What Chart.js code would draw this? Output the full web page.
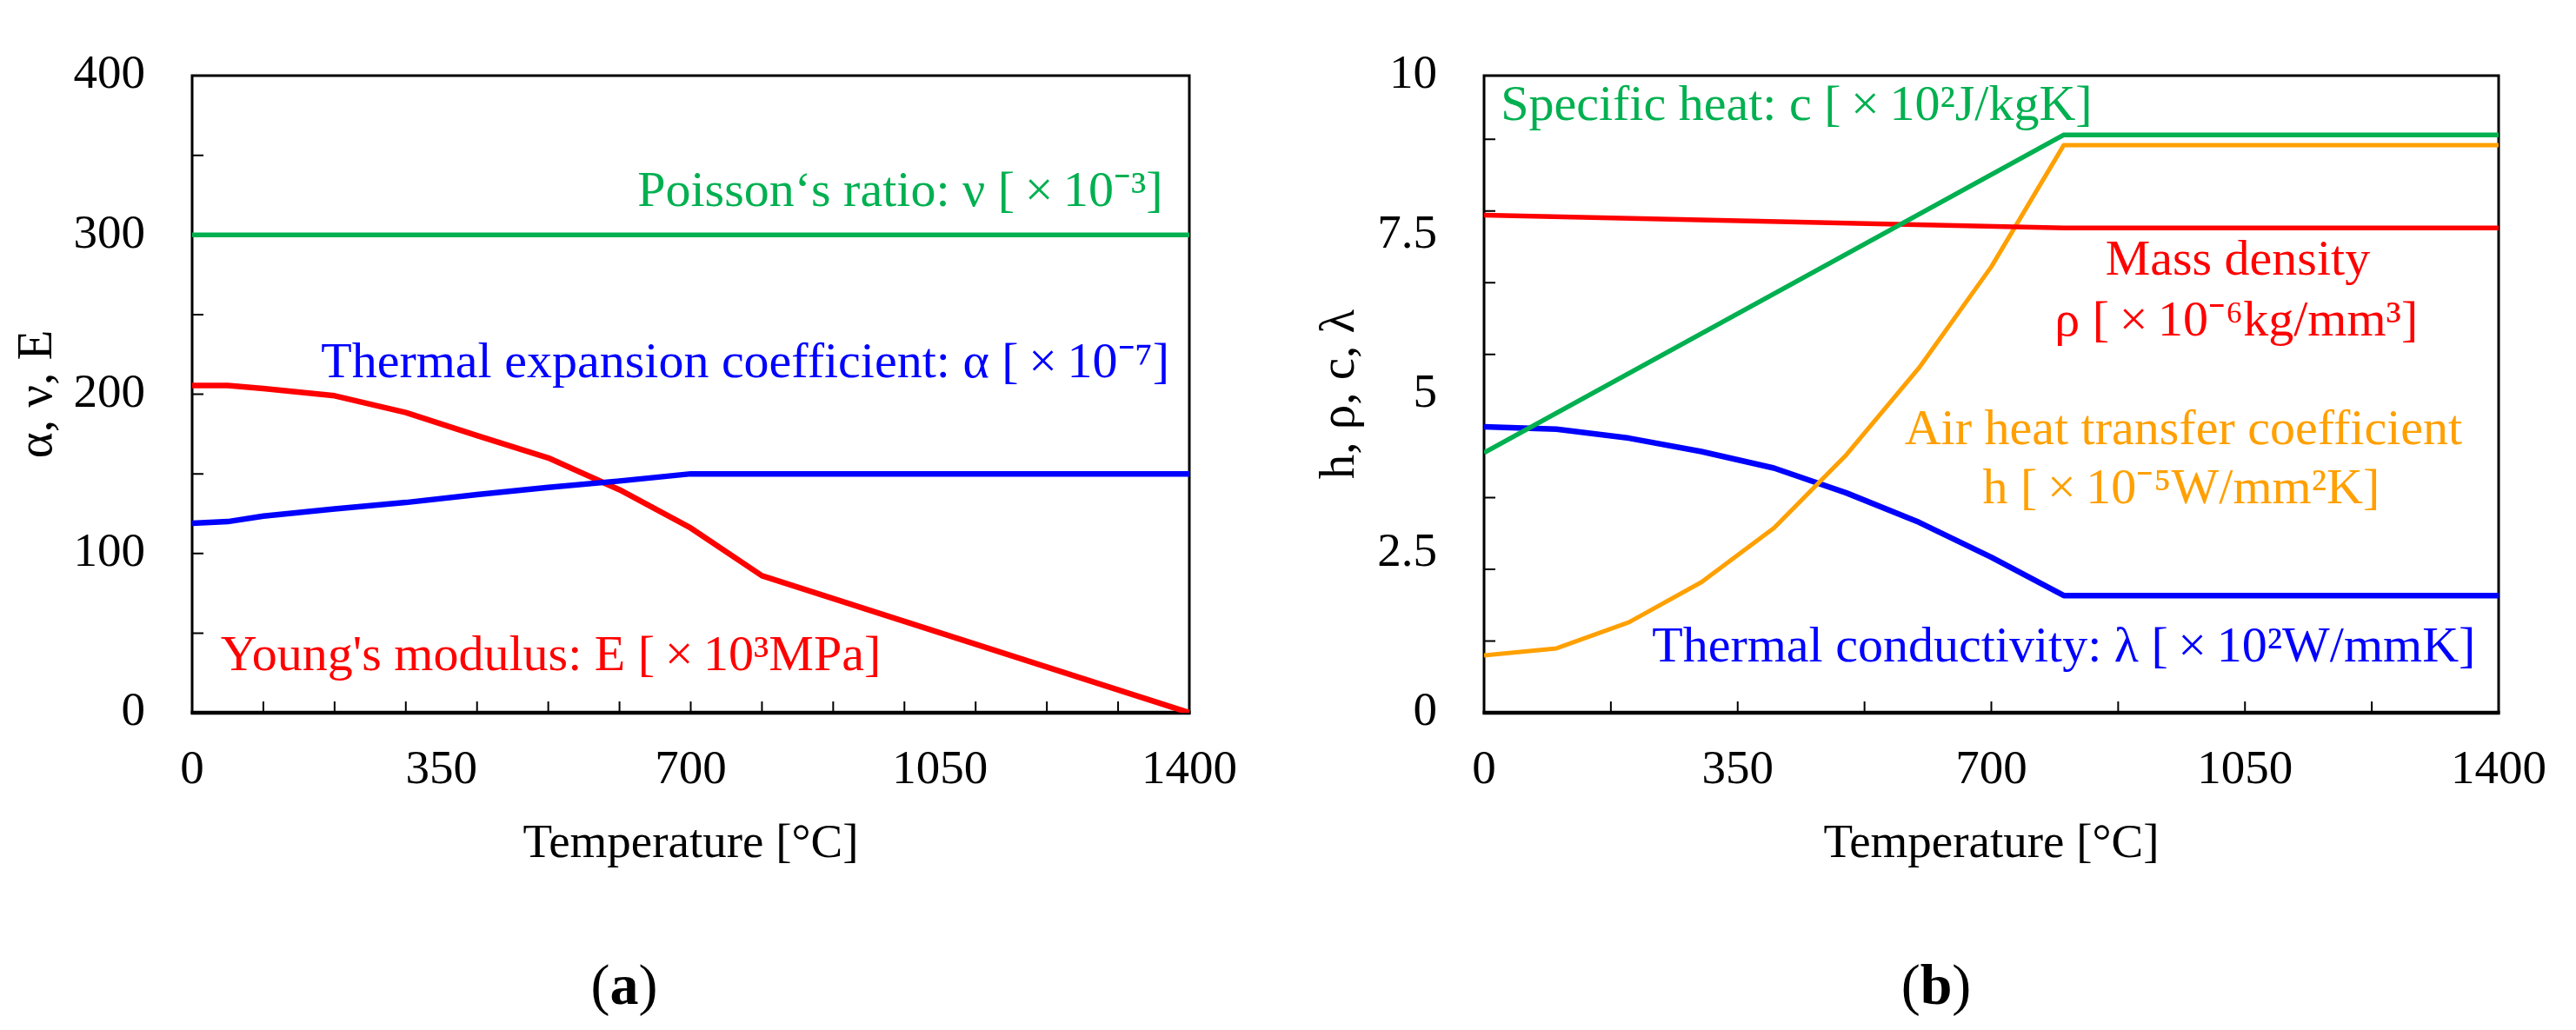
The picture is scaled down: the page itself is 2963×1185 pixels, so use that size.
<!DOCTYPE html>
<html><head><meta charset="utf-8">
<script src="https://cdn.jsdelivr.net/npm/chart.js@4.4.1/dist/chart.umd.min.js"></script>
<style>
html,body{margin:0;padding:0;background:#fff;width:2963px;height:1185px;overflow:hidden;position:relative;font-family:"Liberation Serif",serif;}
canvas{position:absolute;top:0;}
#ca{left:0;width:1480px;height:1050px;}
#cb{left:1480px;width:1483px;height:1050px;}
.lab{position:absolute;top:1133px;font-family:"Liberation Serif",serif;font-size:66px;color:#000;transform:translate(-50%,-50%);white-space:nowrap;line-height:1;}
</style></head><body>
<canvas id="ca" width="1480" height="1050"></canvas>
<canvas id="cb" width="1483" height="1050"></canvas>
<div class="lab" style="left:718px">(<b>a</b>)</div>
<div class="lab" style="left:2227px">(<b>b</b>)</div>
<script>
// ---------- Panel (a) data ----------
const tempA     = [0, 50, 100, 200, 300, 400, 500, 600, 700, 800, 1400];
const youngE    = [205.5, 205.5, 203.5, 199, 188.5, 174, 160, 140, 116, 86, 0];
const expAlpha  = [119, 120, 123.5, 128, 132, 137, 141.5, 145.5, 150, 150, 150];
const tempPoisson = [0, 1400];
const poissonNu = [300, 300];
const xTicksA   = [0, 350, 700, 1050, 1400];
const yTicksA   = [0, 100, 200, 300, 400];
const xMarksA   = [100, 200, 300, 400, 500, 600, 700, 800, 900, 1000, 1100, 1200, 1300];
const yMarksA   = [50, 100, 150, 200, 250, 300, 350];

// ---------- Panel (b) data ----------
const tempB      = [0, 100, 200, 300, 400, 500, 600, 700, 800, 1400];
const airH       = [0.9, 1.01, 1.42, 2.05, 2.9, 4.05, 5.41, 7.0, 8.91, 8.91];
const condLambda = [4.49, 4.45, 4.31, 4.1, 3.84, 3.45, 2.99, 2.44, 1.84, 1.84];
const tempLin    = [0, 800, 1400];
const specC      = [4.08, 9.07, 9.07];
const densRho    = [7.81, 7.61, 7.61];
const xTicksB    = [0, 350, 700, 1050, 1400];
const yTicksB    = [0, 2.5, 5, 7.5, 10];
const xMarksB    = [175, 350, 525, 700, 875, 1050, 1225];
const yMarksB    = [1.125, 2.25, 3.375, 4.5, 5.625, 6.75, 7.875, 9];

const RED = '#FF0000', BLUE = '#0000FF', GREEN = '#00B050', ORANGE = '#FFA000';
const FONT = '"Liberation Serif", serif';
const X = '\u2009×\u2009';

const pts = (xs, ys) => xs.map((x, i) => ({x: x, y: ys[i]}));

const framePlugin = {
  id: 'frame',
  beforeDatasetsDraw(chart, args, o) {
    const {ctx, chartArea: a, scales: {x, y}} = chart;
    ctx.save();
    ctx.strokeStyle = '#000';
    ctx.lineWidth = 2;
    ctx.beginPath();
    o.xMarks.forEach(v => { const p = x.getPixelForValue(v); ctx.moveTo(p, a.bottom); ctx.lineTo(p, a.bottom - 13); });
    o.yMarks.forEach(v => { const p = y.getPixelForValue(v); ctx.moveTo(a.left, p); ctx.lineTo(a.left + 13, p); });
    ctx.stroke();
    ctx.lineWidth = 3;
    ctx.strokeRect(a.left, a.top, a.right - a.left, a.bottom - a.top);
    ctx.lineWidth = 4.5;
    ctx.beginPath(); ctx.moveTo(a.left - 1.5, a.bottom); ctx.lineTo(a.right + 1.5, a.bottom); ctx.stroke();
    ctx.restore();
  },
  afterDatasetsDraw(chart, args, o) {
    const {ctx, scales: {x, y}} = chart;
    ctx.save();
    ctx.font = 'normal 58px ' + FONT;
    ctx.textBaseline = 'alphabetic';
    o.notes.forEach(n => {
      ctx.fillStyle = n.color;
      ctx.textAlign = n.align;
      ctx.fillText(n.text, x.getPixelForValue(n.x), y.getPixelForValue(n.y));
    });
    ctx.restore();
  }
};

function makeChart(id, datasets, cfg) {
  return new Chart(document.getElementById(id), {
    type: 'line',
    data: { datasets: datasets },
    options: {
      responsive: false, animation: false, devicePixelRatio: 1,
      layout: { padding: { top: cfg.top, right: cfg.right, left: 0, bottom: 0 } },
      plugins: { legend: { display: false }, tooltip: { enabled: false }, frame: cfg.frame },
      elements: { point: { radius: 0 }, line: { tension: 0, borderCapStyle: 'butt', borderJoinStyle: 'round' } },
      scales: {
        x: {
          type: 'linear', min: 0, max: 1400,
          afterFit: s => { s.height = 230; },
          afterBuildTicks: s => { s.ticks = cfg.xTicks.map(v => ({value: v})); },
          grid: { display: false, drawTicks: false },
          border: { display: false },
          ticks: { padding: 34, maxRotation: 0, autoSkip: false, color: '#000', font: { family: FONT, size: 55 }, callback: v => String(v) },
          title: { display: true, text: 'Temperature [°C]', color: '#000', padding: { top: 0, bottom: 45 }, font: { family: FONT, size: 55 } }
        },
        y: {
          type: 'linear', min: cfg.yTicks[0], max: cfg.yTicks[cfg.yTicks.length - 1],
          afterFit: s => { s.width = cfg.yWidth; },
          afterBuildTicks: s => { s.ticks = cfg.yTicks.map(v => ({value: v})); },
          grid: { display: false, drawTicks: false },
          border: { display: false },
          ticks: { padding: 54, autoSkip: false, color: '#000', font: { family: FONT, size: 55 }, callback: v => String(v) },
          title: { display: true, text: cfg.yTitle, color: '#000', padding: { top: cfg.yTitlePad, bottom: 0 }, font: { family: FONT, size: 57 } }
        }
      }
    },
    plugins: [framePlugin]
  });
}

makeChart('ca', [
  { data: pts(tempPoisson, poissonNu), borderColor: GREEN, borderWidth: 5.5 },
  { data: pts(tempA, expAlpha), borderColor: BLUE, borderWidth: 6.5 },
  { data: pts(tempA, youngE), borderColor: RED, borderWidth: 6.5 }
], {
  top: 51, right: 112, yWidth: 221, yTitlePad: 10, yTitle: 'α, ν, E',
  xTicks: xTicksA, yTicks: yTicksA,
  frame: {
    xMarks: xMarksA, yMarks: yMarksA,
    notes: [
      { text: 'Poisson‘s ratio: ν [' + X + '10⁻³]', x: 1363, y: 318, align: 'right', color: GREEN },
      { text: 'Thermal expansion coefficient: α [' + X + '10⁻⁷]', x: 1372, y: 210.7, align: 'right', color: BLUE },
      { text: "Young's modulus: E [" + X + "10³MPa]", x: 40, y: 27, align: 'left', color: RED }
    ]
  }
});

makeChart('cb', [
  { data: pts(tempLin, specC), borderColor: GREEN, borderWidth: 5.5 },
  { data: pts(tempLin, densRho), borderColor: RED, borderWidth: 5.5 },
  { data: pts(tempB, airH), borderColor: ORANGE, borderWidth: 5 },
  { data: pts(tempB, condLambda), borderColor: BLUE, borderWidth: 6.5 }
], {
  top: 46, right: 88, yWidth: 227, yTitlePad: 28, yTitle: 'h, ρ, c, λ',
  xTicks: xTicksB, yTicks: yTicksB,
  frame: {
    xMarks: xMarksB, yMarks: yMarksB,
    notes: [
      { text: 'Specific heat: c [' + X + '10²J/kgK]', x: 23, y: 9.3, align: 'left', color: GREEN },
      { text: 'Mass density', x: 1040, y: 6.87, align: 'center', color: RED },
      { text: 'ρ [' + X + '10⁻⁶kg/mm³]', x: 1038, y: 5.92, align: 'center', color: RED },
      { text: 'Air heat transfer coefficient', x: 965, y: 4.22, align: 'center', color: ORANGE },
      { text: 'h [' + X + '10⁻⁵W/mm²K]', x: 962, y: 3.29, align: 'center', color: ORANGE },
      { text: 'Thermal conductivity: λ [' + X + '10²W/mmK]', x: 1368, y: 0.81, align: 'right', color: BLUE }
    ]
  }
});
</script>
</body></html>
